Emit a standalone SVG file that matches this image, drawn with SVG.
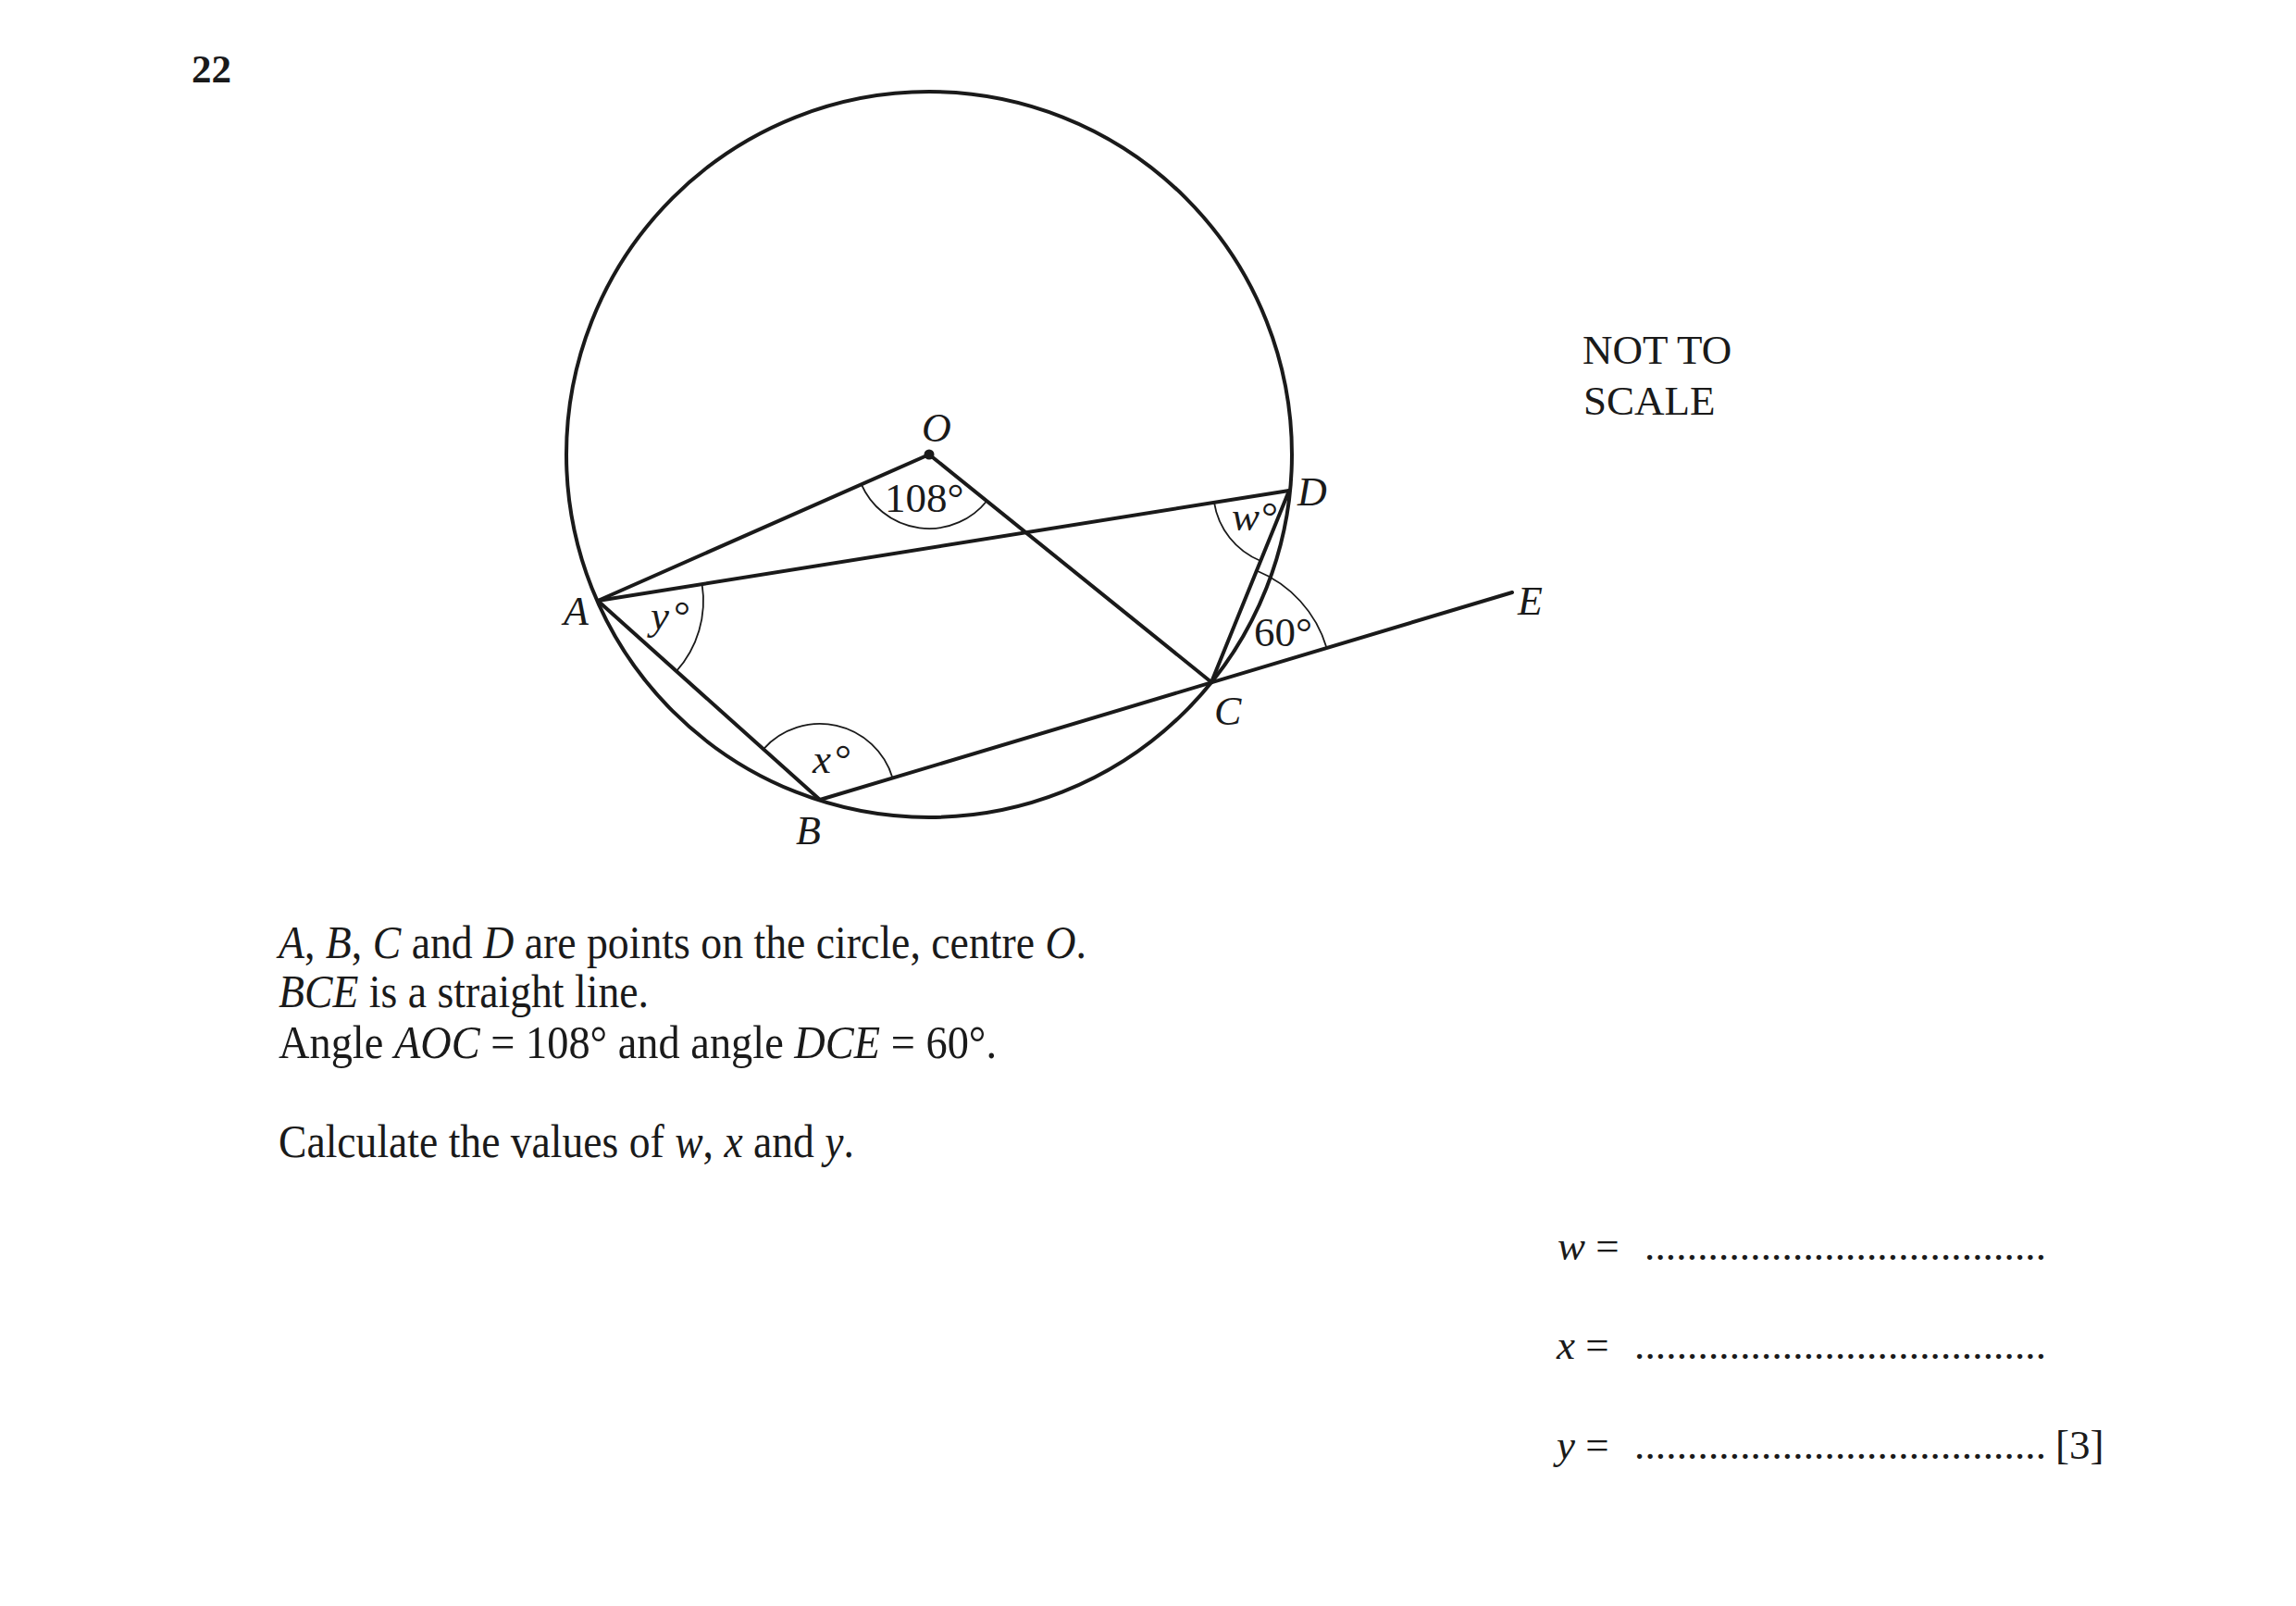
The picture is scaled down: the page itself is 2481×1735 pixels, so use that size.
<svg xmlns="http://www.w3.org/2000/svg" width="2481" height="1735" viewBox="0 0 2481 1735">
<style>
.ln{stroke:#1a1a1a;stroke-width:4;fill:none;stroke-linecap:round;stroke-linejoin:round}
.arc{stroke:#1a1a1a;stroke-width:1.8;fill:none}
.t{font-family:"Liberation Serif","Times New Roman",serif;fill:#1a1a1a}
.lab{font-size:44px;font-style:italic}
.ang{font-size:45px}
.body{font-size:50px}
.i{font-style:italic}
</style>
<rect width="2481" height="1735" fill="#ffffff"/>
<text id="qnum" class="t" x="207" y="89" font-size="43" font-weight="bold">22</text>

<g id="circle"><circle cx="1004" cy="491" r="392" class="ln"/></g>

<g id="connectors">
<line class="ln" x1="1004" y1="491" x2="646" y2="649"/>
<line class="ln" x1="1004" y1="491" x2="1309" y2="737"/>
<line class="ln" x1="646" y1="649" x2="1393" y2="530"/>
<line class="ln" x1="646" y1="649" x2="886" y2="864"/>
<line class="ln" x1="886" y1="864" x2="1634" y2="640"/>
<line class="ln" x1="1393" y1="530" x2="1309" y2="737"/>
</g>

<g id="angles">
<path class="arc" d="M930.8,523.3 A80,80 0 0 0 1066.3,541.2"/>
<path class="arc" d="M758.6,631.1 A114,114 0 0 1 730.9,725.1"/>
<path class="arc" d="M824.9,809.3 A82,82 0 0 1 964.5,840.4"/>
<path class="arc" d="M1312,542.9 A82,82 0 0 0 1362.2,606"/>
<path class="arc" d="M1357.9,616.5 A130,130 0 0 1 1433.5,699.7"/>
<text class="t ang" x="956" y="553">108°</text>
<text class="t ang i" x="703" y="680">y</text>
<text class="t ang" x="728" y="680">°</text>
<text class="t ang i" x="878" y="835">x</text>
<text class="t ang" x="902" y="835">°</text>
<text class="t ang i" x="1331" y="573">w</text>
<text class="t ang" x="1363" y="573">°</text>
<text class="t ang" x="1355" y="698">60°</text>
</g>

<g id="node-O"><circle cx="1004" cy="491" r="5.5" fill="#1a1a1a"/><text class="t lab" x="996" y="477">O</text></g>
<g id="node-A"><text class="t lab" x="609" y="675">A</text></g>
<g id="node-B"><text class="t lab" x="860" y="912">B</text></g>
<g id="node-C"><text class="t lab" x="1312" y="783">C</text></g>
<g id="node-D"><text class="t lab" x="1402" y="546">D</text></g>
<g id="node-E"><text class="t lab" x="1640" y="664">E</text></g>

<g id="note">
<text class="t" x="1710" y="393" font-size="45">NOT TO</text>
<text class="t" x="1711" y="448" font-size="45">SCALE</text>
</g>

<g id="question">
<text class="t body" x="301" y="1035" textLength="873" lengthAdjust="spacingAndGlyphs"><tspan class="i">A</tspan>, <tspan class="i">B</tspan>, <tspan class="i">C</tspan> and <tspan class="i">D</tspan> are points on the circle, centre <tspan class="i">O</tspan>.</text>
<text class="t body" x="301" y="1088" textLength="400" lengthAdjust="spacingAndGlyphs"><tspan class="i">BCE</tspan> is a straight line.</text>
<text class="t body" x="301" y="1143" textLength="776" lengthAdjust="spacingAndGlyphs">Angle <tspan class="i">AOC</tspan> = 108° and angle <tspan class="i">DCE</tspan> = 60°.</text>
<text class="t body" x="301" y="1250" textLength="622" lengthAdjust="spacingAndGlyphs">Calculate the values of <tspan class="i">w</tspan>, <tspan class="i">x</tspan> and <tspan class="i">y</tspan>.</text>
</g>

<g id="answers">
<text class="t" x="1683" y="1361" font-size="45"><tspan class="i">w</tspan> =</text>
<text class="t" x="1777" y="1361" font-size="45" textLength="434" lengthAdjust="spacing">......................................</text>
<text class="t" x="1682" y="1468" font-size="45"><tspan class="i">x</tspan> =</text>
<text class="t" x="1766" y="1468" font-size="45" textLength="445" lengthAdjust="spacing">.......................................</text>
<text class="t" x="1682" y="1576" font-size="45"><tspan class="i">y</tspan> =</text>
<text class="t" x="1766" y="1576" font-size="45" textLength="445" lengthAdjust="spacing">.......................................</text>
<text class="t" x="2221" y="1576" font-size="45">[3]</text>
</g>
</svg>
